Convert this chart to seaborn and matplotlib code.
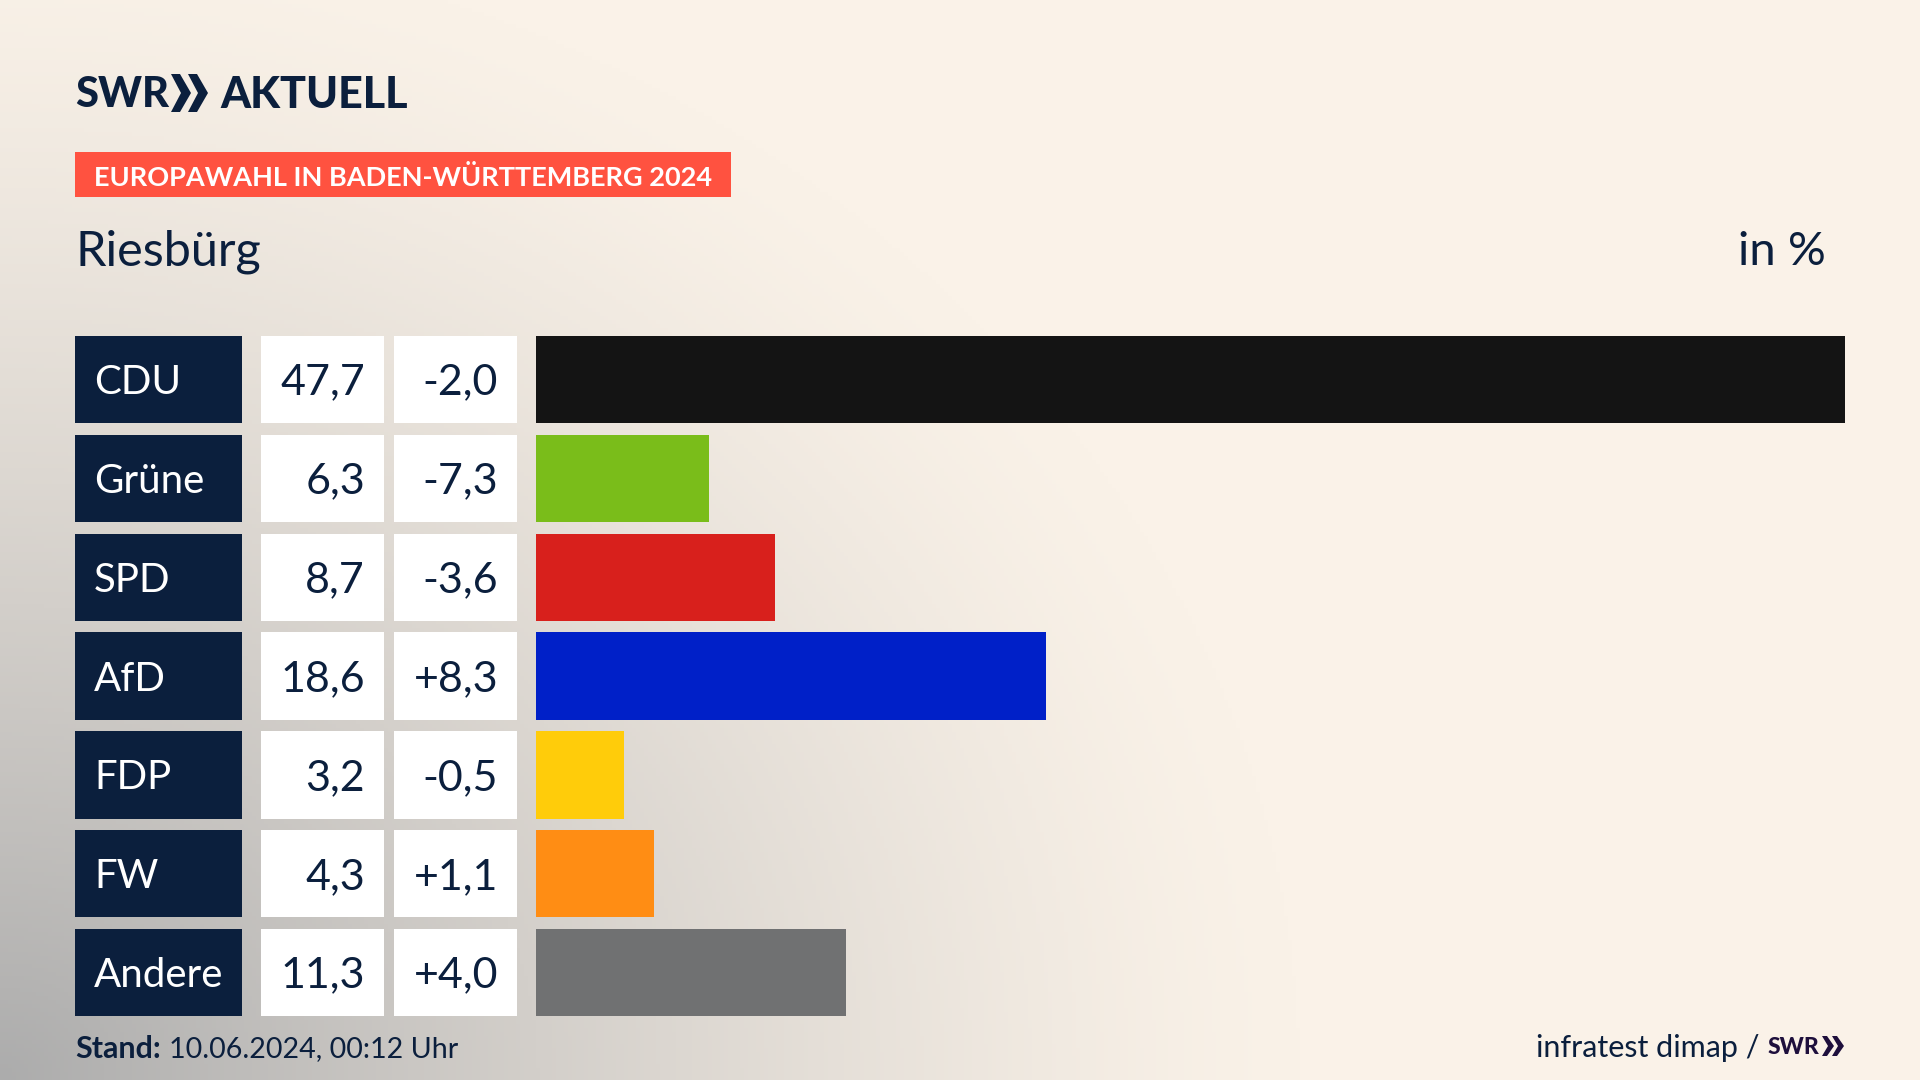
import numpy as np
import pandas as pd
import matplotlib
matplotlib.use("Agg")
import matplotlib.pyplot as plt
from matplotlib.patches import Rectangle, Polygon
import seaborn as sns

parties = ["CDU", "Grüne", "SPD", "AfD", "FDP", "FW", "Andere"]
shares = [47.7, 6.3, 8.7, 18.6, 3.2, 4.3, 11.3]
changes = ["-2,0", "-7,3", "-3,6", "+8,3", "-0,5", "+1,1", "+4,0"]
colors = ["#141414", "#7ABD1A", "#D8201C", "#0020C8", "#FFCC0A", "#FF8D14", "#707172"]

sns.set_theme(style="white")
plt.rcParams["font.family"] = ["Lato", "DejaVu Sans"]
NAVY = "#0B1F3D"

fig = plt.figure(figsize=(19.2, 10.8), dpi=100)

# full-figure canvas in pixel coordinates
bg = fig.add_axes([0, 0, 1, 1])
xx, yy = np.meshgrid(np.linspace(0, 1920, 480), np.linspace(0, 1080, 270))
d = np.sqrt((xx / 1300) ** 2 + ((1080 - yy) / 1150) ** 2)
a = np.clip(1 - d, 0, 1) ** 1.3
base = np.array([0xFA, 0xF2, 0xE8]) / 255
dark = np.array([0xAC, 0xAC, 0xAC]) / 255
img = base[None, None, :] * (1 - a[..., None]) + dark[None, None, :] * a[..., None]
bg.imshow(img, extent=(0, 1920, 1080, 0), aspect="auto", zorder=0)
bg.set_xlim(0, 1920)
bg.set_ylim(1080, 0)
bg.axis("off")

# header
bg.text(75, 95, "SWR", fontsize=30, fontweight="black", color=NAVY, va="center", ha="left")
for x0 in (171, 188):
    bg.add_patch(Polygon([[x0, 74], [x0 + 9, 74], [x0 + 20, 93], [x0 + 9, 112], [x0, 112], [x0 + 10, 93]],
                         closed=True, fc=NAVY, ec="none"))
bg.text(220, 95, "AKTUELL", fontsize=31, fontweight="black", color=NAVY, va="center", ha="left")
bg.add_patch(Rectangle((75, 152), 656, 45, fc="#FF5240", ec="none"))
bg.text(94, 177, "EUROPAWAHL IN BADEN-WÜRTTEMBERG 2024", fontsize=19.5, fontweight="bold",
        color="white", va="center", ha="left")
bg.text(75, 252, "Riesbürg", fontsize=35, color=NAVY, va="center", ha="left")
bg.text(1826, 252, "in %", fontsize=34, color=NAVY, va="center", ha="right")

# table cells
top, pitch, h = 336, 98.83, 87.2
for i, (p, s, c) in enumerate(zip(parties, shares, changes)):
    y = top + pitch * i
    yc = y + h / 2 + 3
    bg.add_patch(Rectangle((75, y), 167, h, fc=NAVY, ec="none"))
    bg.add_patch(Rectangle((261, y), 123, h, fc="white", ec="none"))
    bg.add_patch(Rectangle((394, y), 123, h, fc="white", ec="none"))
    bg.text(94, yc, p, fontsize=29, color="white", va="center", ha="left")
    bg.text(365, yc, f"{s:.1f}".replace(".", ","), fontsize=31, color=NAVY, va="center", ha="right")
    bg.text(498, yc, c, fontsize=31, color=NAVY, va="center", ha="right")

# footer
bg.text(75, 1049, "Stand:", fontsize=22, fontweight="bold", color=NAVY, va="center", ha="left")
bg.text(169, 1049, "10.06.2024, 00:12 Uhr", fontsize=20.6, color=NAVY, va="center", ha="left")
bg.text(1759, 1048, "infratest dimap /", fontsize=22, color=NAVY, va="center", ha="right")
bg.text(1768, 1048, "SWR", fontsize=16.5, fontweight="black", color="#1E0F3C", va="center", ha="left")
for x0 in (1822, 1832):
    bg.add_patch(Polygon([[x0, 1036], [x0 + 5, 1036], [x0 + 12, 1046], [x0 + 5, 1056], [x0, 1056], [x0 + 6, 1046]],
                         closed=True, fc="#1E0F3C", ec="none"))

# bars: seaborn on an axes aligned to the rows
df = pd.DataFrame({"party": parties, "share": shares})
ax_top = top + h / 2 - pitch / 2
ax = fig.add_axes([536 / 1920, 1 - (ax_top + 7 * pitch) / 1080, (1845 - 536) / 1920, 7 * pitch / 1080])
ax.patch.set_alpha(0)
sns.barplot(data=df, y="party", x="share", hue="party", palette=colors, order=parties,
            width=h / pitch, saturation=1, legend=False, linewidth=0, ax=ax)
ax.set_xlim(0, 47.7)
ax.set_ylim(6.5, -0.5)
ax.axis("off")

fig.savefig("out.png", dpi=100)
